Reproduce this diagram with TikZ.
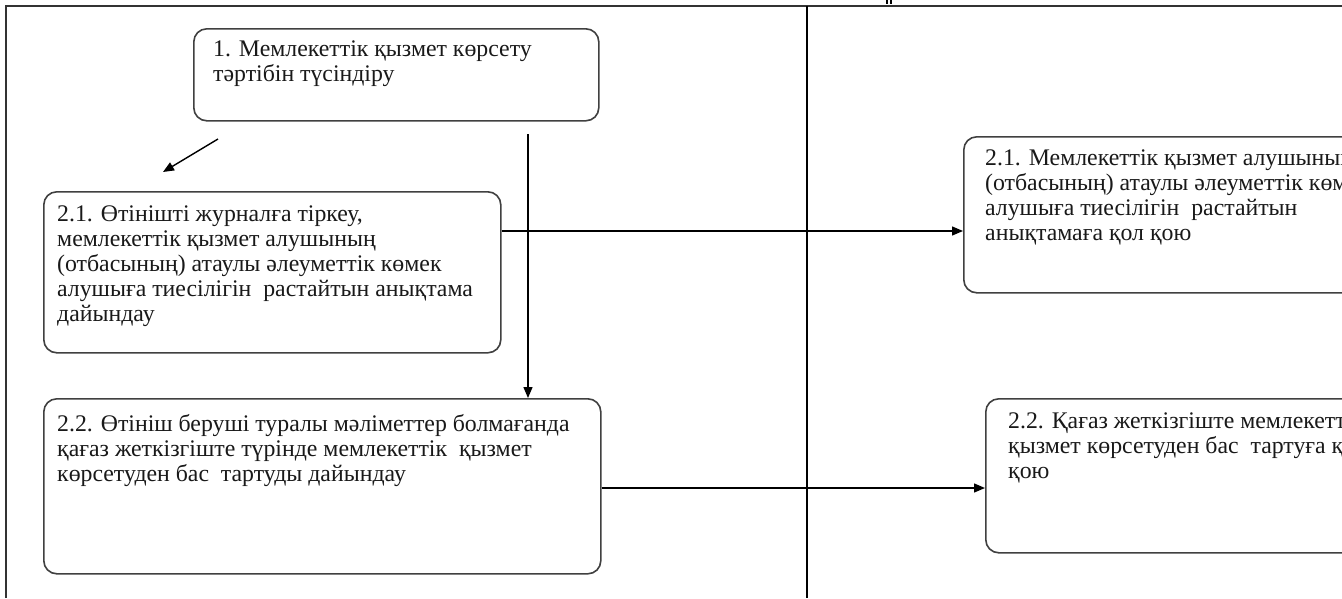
\documentclass[tikz,border=0pt]{standalone}
\usepackage{fontspec}
\setmainfont{Liberation Serif}
\usetikzlibrary{arrows.meta,calc}
\begin{document}
\begin{tikzpicture}[x=1pt,y=-1pt,
  frame/.style={draw=black!80,line width=2pt},
  lane/.style={draw=black,line width=1.4pt},
  box/.style={draw=black!75,line width=1.6pt,rounded corners=13pt,
    inner sep=0pt,anchor=north west},
  txt/.style={anchor=north west,align=left,inner sep=0pt,text=black!90,
    font=\fontsize{23.8}{25}\selectfont},
  arr/.style={draw=black,line width=1.4pt,-{Triangle[length=11pt,width=9pt]}}]
\clip (0,0) rectangle (1342,598);
\fill[white] (0,0) rectangle (1342,598);

% swimlane frame
\draw[frame] (6,598) -- (6,6) -- (1342,6);
\draw[lane] (807,6) -- (807,598);
\fill[black] (886,0) rectangle (888,4);
\fill[black] (890,0) rectangle (892,4);

% boxes
\node[box,minimum width=405,minimum height=92] (b1) at (193,28) {};
\node[box,minimum width=457,minimum height=161] (b21) at (43,191) {};
\node[box,minimum width=557,minimum height=175] (b22) at (43,398) {};
\node[box,minimum width=460,minimum height=156] (r21) at (963,136) {};
\node[box,minimum width=440,minimum height=154] (r22) at (985,398) {};

% box texts
\node[txt] (t1) at ($(b1.north west)+(20,13)$)
  {1. Мемлекеттік қызмет көрсету\\тәртібін түсіндіру};
\node[txt] (t21) at ($(b21.north west)+(14,15)$)
  {2.1. Өтінішті журналға тіркеу,\\мемлекеттік қызмет алушының\\(отбасының) атаулы әлеуметтік көмек\\алушыға тиесілігін\ \ растайтын анықтама\\дайындау};
\node[txt] (t22) at ($(b22.north west)+(14,16)$)
  {2.2. Өтініш беруші туралы мәліметтер болмағанда\\қағаз жеткізгіште түрінде мемлекеттік\ \ қызмет\\көрсетуден бас\ \ тартуды дайындау};
\node[txt] (tr21) at ($(r21.north west)+(22,14)$)
  {2.1. Мемлекеттік қызмет алушының\\(отбасының) атаулы әлеуметтік көмек\\алушыға тиесілігін\ \ растайтын\\анықтамаға қол қою};
\node[txt] (tr22) at ($(r22.north west)+(23,15)$)
  {2.2. Қағаз жеткізгіште мемлекеттік\\қызмет көрсетуден бас\ \ тартуға қол\\қою};

% connectors
\coordinate (d0) at (218,139);
\coordinate (d1) at (163,172);
\coordinate (v0) at (528,134);
\draw[arr] (d0) -- (d1);
\draw[arr] (v0) -- (v0 |- b22.north);
\draw[arr] (b21.east |- 0,231) -- (r21.west |- 0,231);
\draw[arr] (b22.east |- 0,488) -- (r22.west |- 0,488);
\end{tikzpicture}
\end{document}
